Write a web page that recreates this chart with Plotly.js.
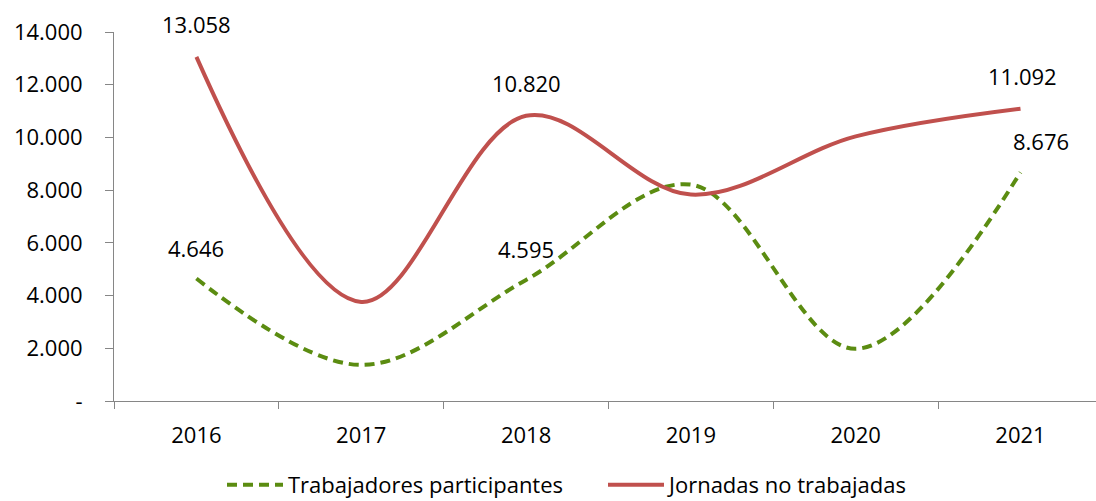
<!DOCTYPE html>
<html>
<head>
<meta charset="utf-8">
<script src="https://cdn.plot.ly/plotly-3.0.1.min.js"></script>
<style>html,body{margin:0;padding:0;background:#fff;}#chart{width:1096px;height:501px;}</style>
</head>
<body>
<div id="chart"></div>
<script>
const years = ['2016', '2017', '2018', '2019', '2020', '2021'];
const trabajadores = [4646, 1370, 4595, 8210, 1980, 8676];
const jornadas = [13058, 3760, 10820, 7830, 10040, 11092];
const labeledYears = ['2016', '2018', '2021'];
const yTickVals = [0, 2000, 4000, 6000, 8000, 10000, 12000, 14000];
const yTickText = ['-', '2.000', '4.000', '6.000', '8.000', '10.000', '12.000', '14.000'];

function fmt(v) {
  return String(Math.round(v)).replace(/\B(?=(\d{3})+(?!\d))/g, '.');
}
const FONT = 'Open Sans, Lato, sans-serif';

const traces = [
  {
    x: years, y: trabajadores, type: 'scatter', mode: 'lines',
    name: 'Trabajadores participantes',
    line: {color: '#5B8C11', width: 4, dash: '10px,6px', shape: 'spline', smoothing: 1}
  },
  {
    x: years, y: jornadas, type: 'scatter', mode: 'lines',
    name: 'Jornadas no trabajadas',
    line: {color: '#C0504D', width: 4, shape: 'spline', smoothing: 1}
  }
];

const annotations = [];
years.forEach(function (yr, i) {
  if (labeledYears.indexOf(yr) < 0) return;
  annotations.push({xref: 'x', yref: 'y', x: i, y: jornadas[i], text: fmt(jornadas[i]),
    showarrow: false, yshift: 33, xshift: (yr === '2021' ? 2 : 0),
    font: {family: FONT, size: 22, color: '#000000'}});
  annotations.push({xref: 'x', yref: 'y', x: i, y: trabajadores[i], text: fmt(trabajadores[i]),
    showarrow: false, yshift: 31, xshift: (yr === '2021' ? 20 : 0),
    font: {family: FONT, size: 22, color: '#000000'}});
});

const layout = {
  width: 1096, height: 501,
  margin: {l: 114, r: 0, t: 32, b: 100, autoexpand: false},
  paper_bgcolor: '#fff', plot_bgcolor: '#fff',
  font: {family: FONT, size: 22, color: '#000'},
  showlegend: true,
  legend: {orientation: 'h', x: (222 - 114) / 982, xref: 'paper', y: -84 / 369, yref: 'paper', yanchor: 'middle',
           itemwidth: 56, entrywidth: 310, entrywidthmode: 'pixels',
           font: {family: FONT, size: 22, color: '#000'}, traceorder: 'normal'},
  xaxis: {
    type: 'category', range: [-0.5, 5.458], tickson: 'boundaries',
    ticks: 'outside', ticklen: 7, tickcolor: '#868686', tickwidth: 1,
    showline: true, linecolor: '#868686', linewidth: 1,
    showgrid: false, zeroline: false, ticklabelstandoff: 15,
    tickfont: {family: FONT, size: 22, color: '#000'}
  },
  yaxis: {
    range: [0, 14000], tickvals: yTickVals, ticktext: yTickText,
    ticks: 'outside', ticklen: 8, tickcolor: '#868686', tickwidth: 1,
    showline: true, linecolor: '#868686', linewidth: 1,
    showgrid: false, zeroline: false, ticklabelstandoff: 18,
    tickfont: {family: FONT, size: 22, color: '#000'}
  },
  annotations: annotations
};

Plotly.newPlot('chart', traces, layout, {staticPlot: true, displayModeBar: false});
</script>
</body>
</html>
